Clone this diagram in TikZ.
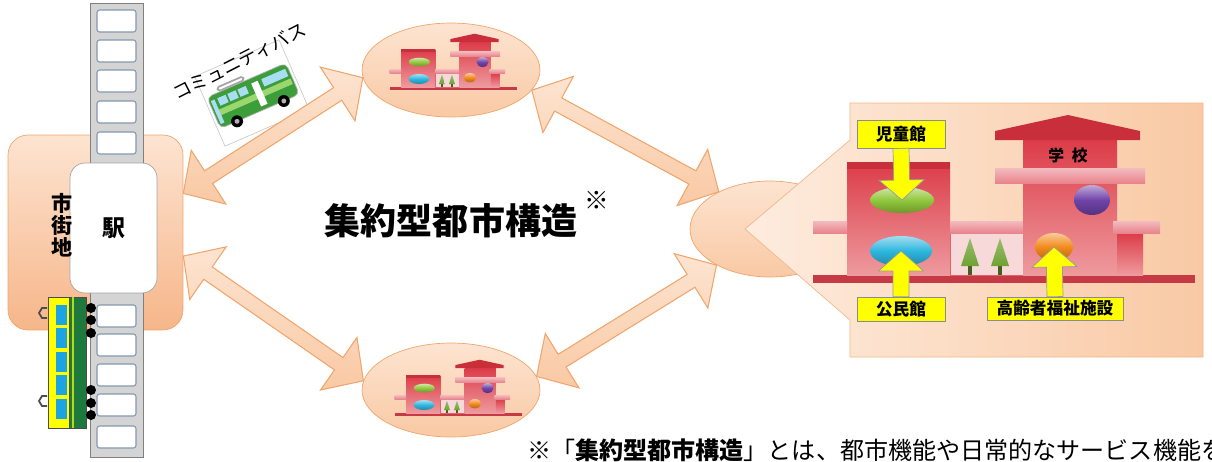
\documentclass[tikz,border=0pt]{standalone}
\usepackage{fontspec}
\setmainfont{Noto Sans CJK JP}
\usetikzlibrary{calc,shapes.geometric}

\definecolor{peachlight}{HTML}{FDE4D1}
\definecolor{peach}{HTML}{F9C9A4}
\definecolor{peachdark}{HTML}{F6B68A}
\definecolor{peachline}{HTML}{F0A56C}
\definecolor{railgray}{HTML}{D4D4D4}
\definecolor{tieline}{HTML}{8497B0}
\definecolor{trainyellow}{HTML}{FFFF00}
\definecolor{traingreen}{HTML}{1E7A3C}
\definecolor{trainblue}{HTML}{1CA3E3}
\definecolor{bldred}{HTML}{DC3C48}
\definecolor{bldtop}{HTML}{C92E3B}
\definecolor{bldpink}{HTML}{EE9A9E}
\definecolor{bldledge}{HTML}{E9848C}
\definecolor{bldground}{HTML}{C63A45}
\definecolor{bldmid}{HTML}{F7D9DA}
\definecolor{treegreen}{HTML}{6EA233}
\definecolor{ovgreen}{HTML}{92C83E}
\definecolor{ovblue}{HTML}{2DB6DE}
\definecolor{ovpurple}{HTML}{7043A8}
\definecolor{ovorange}{HTML}{F28A1C}
\definecolor{labelyellow}{HTML}{FFFF00}
\definecolor{busgreen}{HTML}{3C9E3A}
\definecolor{buslight}{HTML}{9BD66E}
\definecolor{buswindow}{HTML}{A9DDF3}

% fat double-headed arrow from #1 to #2
\newcommand\dblarrow[2]{%
  \coordinate (hA) at ($(#1)!0.6cm!(#2)$);
  \coordinate (hB) at ($(#2)!0.6cm!(#1)$);
  \shadedraw[fatarrow] (#1)
    -- ($(hA)!0.64cm!90:(#2)$) -- ($(hA)!0.15cm!90:(#2)$)
    -- ($(hB)!0.15cm!-90:(#1)$) -- ($(hB)!0.64cm!-90:(#1)$)
    -- (#2)
    -- ($(hB)!0.64cm!90:(#1)$) -- ($(hB)!0.15cm!90:(#1)$)
    -- ($(hA)!0.15cm!-90:(#2)$) -- ($(hA)!0.64cm!-90:(#2)$)
    -- cycle;}

% yellow pointer from a label (#1) to a facility (#2)
\newcommand\labelarrow[2]{%
  \coordinate (hT) at ($(#2)!0.4cm!(#1)$);
  \filldraw[yellowarrow] ($(#1)!0.16cm!90:(#2)$)
    -- ($(hT)!0.16cm!90:(#2)$) -- ($(hT)!0.45cm!90:(#2)$)
    -- (#2)
    -- ($(hT)!0.45cm!-90:(#2)$) -- ($(hT)!0.16cm!-90:(#2)$)
    -- ($(#1)!0.16cm!-90:(#2)$) -- cycle;}

% hall, trees and school on one ground bar; #1 prefixes the facility names
\newcommand\townblock[1]{%
  \fill[bldground] (-34,0) rectangle (348,8);
  % hall
  \shade[bldwall] (0,-113) rectangle (103,0);
  \fill[bldtop] (0,-113) rectangle (103,-106);
  \shade[bldledge] (-34,-54) rectangle (0,-42);
  % middle part with trees
  \filldraw[draw=bldred!80, fill=bldmid] (103,-42) rectangle (176,0);
  \shade[bldledge] (103,-54) rectangle (180,-42);
  \foreach \tx in {123,153} {
    \fill[treegreen!60!black] (\tx-2,-10) rectangle (\tx+2,0);
    \shade[top color=treegreen!70!white, bottom color=treegreen] (\tx-9,-9) -- (\tx,-37) -- (\tx+9,-9) -- cycle;
  }
  % school
  \shade[bldwall] (176,-135) rectangle (270,0);
  \shade[bldwall] (270,-42) rectangle (296,0);
  \fill[bldtop] (148,-135) -- (148,-144) -- (221,-160) -- (293,-144) -- (293,-135) -- cycle;
  \shade[bldledge] (148,-107) rectangle (298,-92);
  \shade[bldledge] (266,-54) rectangle (313,-42);
  % facilities
  \coordinate (#1-green) at (55,-75);
  \coordinate (#1-blue) at (54,-24);
  \coordinate (#1-purple) at (245,-75);
  \coordinate (#1-orange) at (207,-28);
  \shade[facility=ovgreen] (#1-green) ellipse (32 and 13);
  \shade[facility=ovblue] (#1-blue) ellipse (31 and 15);
  \shade[facility=ovpurple] (#1-purple) ellipse (18 and 15);
  \shade[facility=ovorange] (#1-orange) ellipse (19 and 14);
}

\begin{document}
\begin{tikzpicture}[x=0.02cm, y=-0.02cm,
    peachshape/.style={draw=peachline, top color=peachlight, bottom color=peach},
    town/.style={peachshape, bottom color=peachdark, rounded corners=0.4cm,
      minimum width=3.5cm, minimum height=3.9cm},
    hub/.style={peachshape, ellipse, inner sep=0pt},
    fatarrow/.style={draw=peachline, line width=0.6pt, top color=peachlight, bottom color=peach},
    panel/.style={draw=peachline!80, left color=peachlight!70!white, right color=peach},
    station/.style={draw=gray!70, fill=white, rounded corners=0.3cm,
      minimum width=1.74cm, minimum height=2.6cm, font=\bfseries\fontsize{13}{15}\selectfont},
    tie/.style={draw=tieline, fill=white, rounded corners=1.5pt, line width=0.6pt},
    hallbox/.style={draw=black!45, fill=labelyellow, inner sep=0pt,
      font=\bfseries\fontsize{9.5}{11}\selectfont},
    yellowarrow/.style={draw=black!40, fill=labelyellow, line width=0.4pt},
    bldwall/.style={top color=bldred, bottom color=bldpink},
    bldledge/.style={top color=bldledge!55!white, bottom color=bldledge},
    facility/.style={top color=#1!45!white, bottom color=#1!75!black, middle color=#1},
    buscard/.style={draw=gray!40, fill=white},
    busbody/.style={draw=gray!60, fill=busgreen, rounded corners=3pt}]

    \useasboundingbox (0,0) rectangle (1212,461);

    % Draw the town centre and the railway
    \node[town] (town) at (95.5,232.5) {};
    \filldraw[draw=gray, fill=railgray] (90,3) rectangle (143,457);
    \foreach \ty in {10,40,70,101,132,305,334,364,394,426}
      \draw[tie] (97,\ty) rectangle (136,\ty+22);
    \node[station] (eki) at (113.5,228) {駅};
    \node[font=\bfseries\fontsize{12}{12.6}\selectfont, align=center] (shigaichi) at (62,225) {市\\街\\地};

    % Draw the train
    \filldraw[draw=black!70, fill=trainyellow] (48,297) rectangle (69,428);
    \foreach \i in {0,...,4}
      \fill[trainblue] (56,{305+23.4*\i}) rectangle (67,{325+23.4*\i});
    \filldraw[draw=black!70, fill=traingreen] (69,297) rectangle (86,428);
    \draw[yellow!70!green, line width=0.8pt] (73,297) -- (73,428);
    \foreach \wy in {308,320,333,390,403,415}
      \fill (91,\wy) circle (5);
    \foreach \cy in {313,401}
      \draw[black!70, line width=1pt] (47,\cy-5) -- (42,\cy-5) -- (39,\cy) -- (42,\cy+5) -- (47,\cy+5);

    % Draw the community bus
    \begin{scope}[shift={(252,93)}, rotate=23.5]
      \filldraw[buscard] (-46,-38) rectangle (46,38);
      \draw[gray!70, line width=1pt, rounded corners=1pt] (-30,-19) rectangle (-2,-15);
      \filldraw[busbody] (-43,-14) rectangle (43,20);
      \fill[buslight] (-41,2) rectangle (41,8);
      \foreach \wx in {-34,-23,-12}
        \fill[buswindow] (\wx,-9) rectangle (\wx+9,-1);
      \fill[white] (3,-9) rectangle (10,16);
      \fill[buswindow] (14,-9) rectangle (40,-1);
      \fill[buswindow] (-41,-9) rectangle (-37,16);
      \foreach \wx in {-25,26} {
        \fill[black] (\wx,20) circle (6);
        \fill[gray!60] (\wx,20) circle (2.5);
      }
      \node[rotate=27, font=\fontsize{10.5}{12}\selectfont] (bustext) at (1,-34) {コミュニティバス};
    \end{scope}

    % Draw the local centres
    \node[hub, minimum width=3.56cm, minimum height=1.88cm] (topell) at (451,70) {};
    \node[hub, minimum width=3.56cm, minimum height=1.88cm] (botell) at (451,390) {};
    \node[hub, minimum width=3.2cm, minimum height=1.92cm] (rightell) at (770,229) {};
    \begin{scope}[shift={(401,87)}, scale=0.333]
      \townblock{top}
    \end{scope}
    \begin{scope}[shift={(406,413)}, scale=0.333]
      \townblock{bot}
    \end{scope}

    % Draw the links
    \dblarrow{town.24}{topell.185}
    \dblarrow{town.-15}{botell.174}
    \dblarrow{topell.346}{rightell.144}
    \dblarrow{botell.9}{rightell.214}

    % Title
    \node[font=\bfseries\fontsize{20.5}{24}\selectfont] (title) at (451,221) {集約型都市構造};
    \node[font=\fontsize{14}{16}\selectfont] (titlemark) at (597,200) {※};

    % Draw the enlarged centre
    \shadedraw[panel] (850,103) -- (1203,103) -- (1203,357) -- (850,357)
      -- (850,320) -- (745,229) -- (850,140) -- cycle;
    \begin{scope}[shift={(847,275)}]
      \townblock{big}
    \end{scope}
    \node[font=\bfseries\fontsize{9}{11}\selectfont] (gakko) at (1068,155) {学\enspace 校};
    \node[hallbox, minimum width=1.76cm, minimum height=0.56cm] (jido) at (901,134) {児童館};
    \node[hallbox, minimum width=1.76cm, minimum height=0.48cm] (kominkan) at (901,309) {公民館};
    \node[hallbox, minimum width=2.72cm, minimum height=0.46cm] (fukushi) at (1055,308.5) {高齢者福祉施設};
    \labelarrow{jido.south}{big-green}
    \labelarrow{kominkan.north}{big-blue}
    \labelarrow{fukushi.north}{big-orange}

    % Footnote
    \node[anchor=west, font=\fontsize{13.7}{15}\selectfont] (note) at (521,450)
      {※「\textbf{集約型都市構造}」とは、都市機能や日常的なサービス機能を};
\end{tikzpicture}
\end{document}
